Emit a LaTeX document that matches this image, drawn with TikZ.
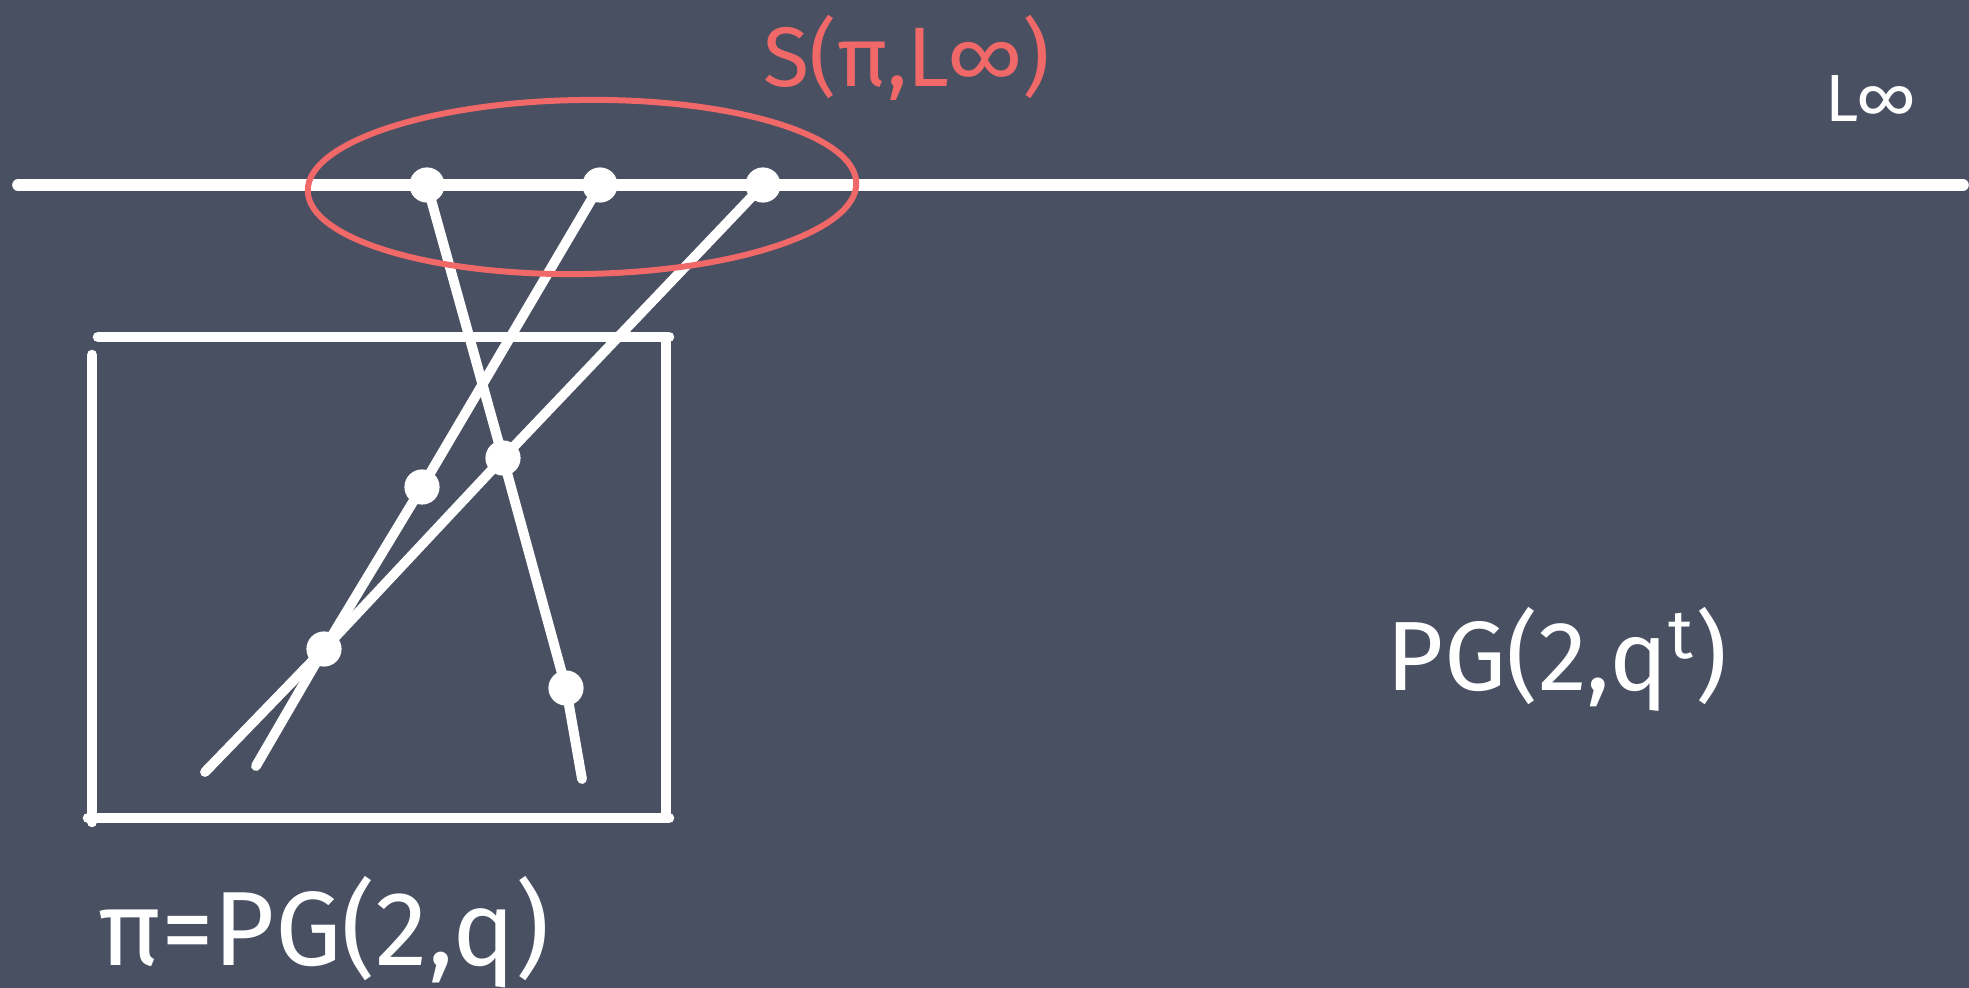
\documentclass[tikz,border=0pt]{standalone}
\usepackage{fontspec}
\setmainfont{Fira Sans}
\usetikzlibrary{shapes.geometric}
\definecolor{board}{RGB}{73,80,98}
\definecolor{chalkred}{RGB}{240,104,104}
\begin{document}
\begin{tikzpicture}[x=0.01cm,y=-0.01cm,
  chalk/.style={draw=white, line width=2.8pt, line cap=round},
  bigline/.style={draw=white, line width=3.3pt, line cap=round},
  boxline/.style={draw=white, line width=3.0pt, line cap=round},
  dot/.style={circle, fill=white, inner sep=0pt, minimum size=10pt},
  wtxt/.style={text=white, inner sep=0pt},
  rtxt/.style={text=chalkred, inner sep=0pt}]
\fill[board] (0,0) rectangle (1969,988);
\useasboundingbox (0,0) rectangle (1969,988);

% line at infinity
\coordinate (L0) at (18,185);
\coordinate (L1) at (1963,185);
\draw[bigline] (L0) -- (L1);

% box
\coordinate (t1) at (98,337);  \coordinate (t2) at (669,337);
\coordinate (r1) at (666,340); \coordinate (r2) at (666,816);
\coordinate (b1) at (88,818);  \coordinate (b2) at (669,818);
\coordinate (l1) at (92,355);  \coordinate (l2) at (92,822);
\draw[boxline] (t1) -- (t2);
\draw[boxline] (r1) -- (r2);
\draw[boxline] (b1) -- (b2);
\draw[boxline] (l1) -- (l2);

% points
\node[dot] (p1) at (427,185) {};
\node[dot] (p2) at (600,185) {};
\node[dot] (p3) at (763,185) {};
\node[dot] (q1) at (503,458) {};
\node[dot] (q2) at (422,487) {};
\node[dot] (q3) at (324,649) {};
\node[dot] (q4) at (566,688) {};
\coordinate (eA) at (582,779);
\coordinate (eB) at (256,766);
\coordinate (eC) at (205,772);

% lines
\draw[chalk] (p1.center) -- (q1.center) -- (q4.center) -- (eA);
\draw[chalk] (p2.center) -- (q2.center) -- (q3.center) -- (eB);
\draw[chalk] (p3.center) -- (q1.center) -- (q3.center) -- (eC);

% ellipse S
\node[draw=chalkred, line width=1.7pt, ellipse, minimum width=156pt,
      minimum height=49.5pt, rotate=0.8] (S) at (582,187) {};

% labels
\node[rtxt, font=\fontsize{24}{28}\selectfont] (Slbl) at (907,58) {S(π,L∞)};
\node[wtxt, font=\fontsize{19}{22}\selectfont] (Linf) at (1871,98) {L∞};
\node[wtxt, font=\fontsize{28}{32}\selectfont] (PGqt) at (1557,659) {PG(2,q\textsuperscript{t})};
\node[wtxt, font=\fontsize{30}{34}\selectfont] (PGq) at (324,932) {π=PG(2,q)};
\end{tikzpicture}
\end{document}
